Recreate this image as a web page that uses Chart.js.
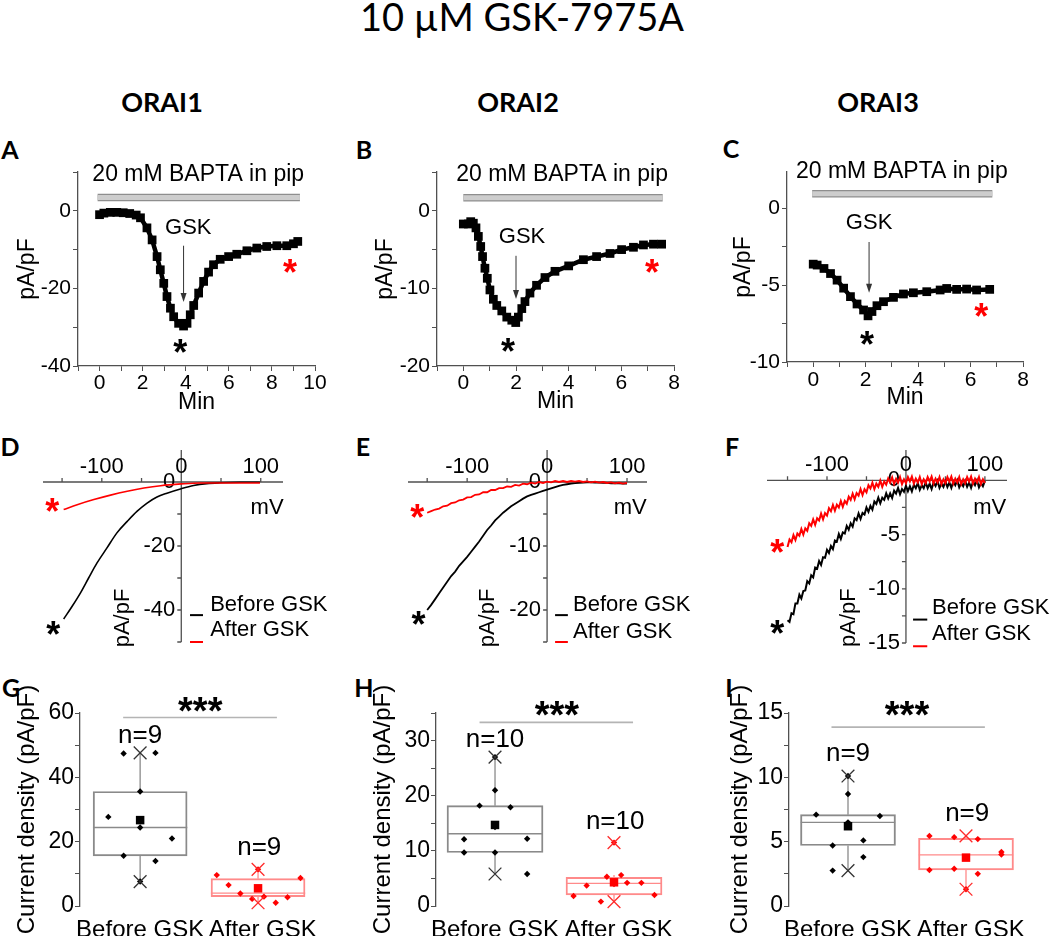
<!DOCTYPE html>
<html>
<head>
<meta charset="utf-8">
<title>10 µM GSK-7975A</title>
<script src="https://cdn.jsdelivr.net/npm/chart.js@4.4.1/dist/chart.umd.min.js"></script>
<style>
  body { margin: 0; background: #fff; }
  #fig { position: relative; width: 1050px; height: 942px; overflow: hidden; font-family: Lato, 'Open Sans', sans-serif; }
  #fig canvas { position: absolute; left: 0; top: 0; }
  .lbl { position: absolute; transform: translate(-50%, -50%); line-height: 1; white-space: nowrap; color: #000; }
  .ttl { font-size: 38px; }
  .hdr { font-size: 27px; font-weight: bold; }
  .pl { font-size: 25px; font-weight: bold; }
</style>
</head>
<body>
<div id="fig">
  <div class="lbl ttl" style="left:522px;top:16px">10 µM GSK-7975A</div>
  <div class="lbl hdr" style="left:162px;top:101px">ORAI1</div>
  <div class="lbl hdr" style="left:518px;top:101px">ORAI2</div>
  <div class="lbl hdr" style="left:878px;top:101px">ORAI3</div>
  <div class="lbl pl" style="left:10px;top:149px">A</div>
  <div class="lbl pl" style="left:364px;top:149px">B</div>
  <div class="lbl pl" style="left:731px;top:148px">C</div>
  <div class="lbl pl" style="left:10px;top:446px">D</div>
  <div class="lbl pl" style="left:363px;top:446px">E</div>
  <div class="lbl pl" style="left:732px;top:446px">F</div>
  <div class="lbl pl" style="left:11px;top:687px">G</div>
  <div class="lbl pl" style="left:364px;top:687px">H</div>
  <div class="lbl pl" style="left:729px;top:687px">I</div>
  <canvas id="cA" width="1050" height="942"></canvas>
  <canvas id="cB" width="1050" height="942"></canvas>
  <canvas id="cC" width="1050" height="942"></canvas>
  <canvas id="cD" width="1050" height="942"></canvas>
  <canvas id="cE" width="1050" height="942"></canvas>
  <canvas id="cF" width="1050" height="942"></canvas>
  <canvas id="cG" width="1050" height="942"></canvas>
  <canvas id="cH" width="1050" height="942"></canvas>
  <canvas id="cI" width="1050" height="942"></canvas>
</div>
<script>
// ---------- A-C: current density vs time (min, pA/pF) ----------
var timeA = [0, 0.2, 0.5, 0.8, 1.1, 1.4, 1.7, 1.9, 2.2, 2.44, 2.67, 2.82, 2.98, 3.13, 3.29, 3.44, 3.67, 3.9, 4.06, 4.21, 4.37, 4.6, 4.83, 5.06, 5.29, 5.6, 5.99, 6.37, 6.84, 7.3, 7.76, 8.23, 8.69, 9.0, 9.2];
var currA = [-1.0, -0.6, -0.4, -0.4, -0.5, -0.7, -1.1, -1.8, -4.4, -7.5, -11.8, -15.2, -18.7, -22.1, -25.1, -27.3, -29.0, -29.7, -29.0, -26.8, -24.4, -21.2, -18.2, -15.8, -13.9, -12.5, -11.8, -11.2, -10.3, -9.6, -9.2, -9.0, -9.0, -8.5, -7.9];
var timeB = [0, 0.19, 0.28, 0.38, 0.48, 0.57, 0.66, 0.73, 0.82, 0.91, 1.01, 1.14, 1.27, 1.46, 1.65, 1.84, 1.99, 2.09, 2.22, 2.34, 2.53, 2.78, 3.1, 3.48, 4.0, 4.56, 5.06, 5.57, 6.01, 6.46, 6.84, 7.22, 7.53];
var currB = [-1.7, -1.7, -1.4, -1.6, -2.2, -3.3, -4.6, -5.9, -7.4, -8.7, -10.2, -11.4, -12.2, -12.9, -13.7, -14.1, -14.4, -13.7, -12.6, -11.7, -10.6, -9.6, -8.6, -7.8, -7.1, -6.3, -5.9, -5.5, -5.0, -4.7, -4.4, -4.3, -4.3];
var timeC = [0, 0.15, 0.41, 0.66, 0.91, 1.16, 1.42, 1.67, 1.92, 2.09, 2.24, 2.43, 2.68, 3.06, 3.44, 3.82, 4.33, 4.84, 5.09, 5.47, 5.85, 6.23, 6.73];
var currC = [-3.64, -3.7, -3.92, -4.25, -4.68, -5.2, -5.75, -6.23, -6.62, -7.0, -6.72, -6.34, -6.08, -5.8, -5.58, -5.5, -5.43, -5.32, -5.22, -5.28, -5.26, -5.32, -5.28];
// BAPTA period [start, end] and GSK application time (min)
var baptaA = [-0.09, 9.3], baptaB = [0, 7.57], baptaC = [-0.04, 6.83];
var gskA = 3.9, gskB = 2.0, gskC = 2.13;

// ---------- D-F: I-V curves (mV, pA/pF) ----------
var mvBeforeD = [-148, -137.5, -127, -116.6, -106, -93.5, -81, -68, -55.8, -43, -30.6, -18, 0, 15.5, 32, 49, 74, 99];
var beforeD = [-42.8, -38.9, -34.7, -30, -25.3, -20.6, -15.9, -12.3, -9.2, -6.6, -4.7, -3.5, -2.1, -1.1, -0.5, -0.25, -0.1, -0.1];
var mvAfterD = [-148, -131, -110, -89, -68, -47, -26, 0, 24, 66, 99];
var afterD = [-8.6, -7.1, -5.5, -4.1, -2.9, -1.9, -1.15, -0.6, -0.3, -0.3, -0.3];
var mV = [-150, -145, -140, -135, -130, -125, -120, -115, -110, -105, -100, -95, -90, -85, -80, -75, -70, -65, -60, -55, -50, -45, -40, -35, -30, -25, -20, -15, -10, -5, 0, 5, 10, 15, 20, 25, 30, 35, 40, 45, 50, 55, 60, 65, 70, 75, 80, 85, 90, 95, 100];
var beforeE = [-20.0, -19.2, -18.3, -17.4, -16.5, -15.6, -14.7, -14.0, -13.1, -12.4, -11.7, -10.9, -10.1, -9.3, -8.4, -7.5, -6.8, -6.0, -5.4, -4.8, -4.3, -3.8, -3.4, -3.0, -2.6, -2.25, -2.0, -1.8, -1.6, -1.4, -1.2, -1.0, -0.8, -0.6, -0.45, -0.35, -0.25, -0.18, -0.12, -0.08, -0.05, -0.05, -0.1, -0.1, -0.15, -0.15, -0.2, -0.2, -0.2, -0.25, -0.25];
var afterE = [-4.8, -4.55, -4.3, -4.15, -3.8, -3.7, -3.3, -3.2, -2.85, -2.75, -2.4, -2.35, -2.0, -1.95, -1.6, -1.6, -1.25, -1.25, -0.95, -0.95, -0.7, -0.75, -0.45, -0.55, -0.25, -0.35, -0.1, -0.25, 0.0, -0.15, 0.05, -0.05, 0.15, 0.0, 0.15, 0.0, 0.15, 0.05, 0.15, 0.0, 0.1, -0.05, 0.05, -0.1, 0.0, -0.15, -0.05, -0.2, -0.1, -0.25, -0.15];
// ORAI3 I-V is noisy: sampled every 2.5 mV
var mvF = [-150, -147.5, -145, -142.5, -140, -137.5, -135, -132.5, -130, -127.5, -125, -122.5, -120, -117.5, -115, -112.5, -110, -107.5, -105, -102.5,
    -100, -97.5, -95, -92.5, -90, -87.5, -85, -82.5, -80, -77.5, -75, -72.5, -70, -67.5, -65, -62.5, -60, -57.5, -55, -52.5,
    -50, -47.5, -45, -42.5, -40, -37.5, -35, -32.5, -30, -27.5, -25, -22.5, -20, -17.5, -15, -12.5, -10, -7.5, -5, -2.5,
    0, 2.5, 5, 7.5, 10, 12.5, 15, 17.5, 20, 22.5, 25, 27.5, 30, 32.5, 35, 37.5, 40, 42.5, 45, 47.5,
    50, 52.5, 55, 57.5, 60, 62.5, 65, 67.5, 70, 72.5, 75, 77.5, 80, 82.5, 85, 87.5, 90, 92.5, 95, 97.5, 100];
var beforeF = [-12.9, -13.05, -12.25, -12.35, -11.35, -11.35, -10.55, -10.9, -10.2, -10.15, -9.3, -9.5, -8.75, -8.95, -8.05, -8.15, -7.45, -7.8, -7.1, -7.15,
    -6.4, -6.7, -6.05, -6.35, -5.55, -5.65, -4.95, -5.4, -4.8, -4.9, -4.2, -4.55, -3.95, -4.27, -3.5, -3.67, -3.05, -3.55, -3.0, -3.15,
    -2.5, -2.9, -2.35, -2.7, -1.95, -2.17, -1.6, -2.12, -1.6, -1.8, -1.2, -1.67, -1.2, -1.62, -0.95, -1.22, -0.7, -1.27, -0.8, -1.05,
    -0.5, -1.0, -0.55, -1.02, -0.4, -0.72, -0.25, -0.87, -0.45, -0.72, -0.2, -0.72, -0.3, -0.8, -0.2, -0.52, -0.05, -0.7, -0.3, -0.6,
    -0.1, -0.62, -0.2, -0.7, -0.1, -0.45, 0.0, -0.65, -0.25, -0.55, -0.05, -0.6, -0.2, -0.7, -0.1, -0.45, 0.0, -0.65, -0.25, -0.55, -0.05];
var afterF = [-6.15, -5.45, -5.7, -5.05, -5.5, -4.9, -5.1, -4.48, -5.0, -4.42, -4.65, -3.95, -4.2, -3.6, -4.1, -3.5, -3.7, -3.07, -3.6, -3.02,
    -3.25, -2.57, -2.85, -2.27, -2.8, -2.25, -2.5, -1.9, -2.45, -1.9, -2.15, -1.5, -1.8, -1.22, -1.75, -1.17, -1.4, -0.8, -1.35, -0.82,
    -1.1, -0.45, -0.75, -0.22, -0.8, -0.3, -0.6, -0.02, -0.6, -0.1, -0.4, 0.18, -0.2, 0.28, -0.35, 0.13, -0.2, 0.3, -0.35, 0.1,
    -0.25, 0.3, -0.1, 0.35, -0.3, 0.15, -0.2, 0.3, -0.35, 0.1, -0.25, 0.3, -0.1, 0.35, -0.3, 0.15, -0.2, 0.3, -0.35, 0.1,
    -0.25, 0.3, -0.1, 0.35, -0.3, 0.15, -0.2, 0.3, -0.35, 0.1, -0.25, 0.3, -0.1, 0.35, -0.3, 0.15, -0.2, 0.3, -0.35, 0.1, -0.25];
// tick labels of the I-V axes
var ivXLabels = [-100, 0, 100];
var ivXTicks = [-150, -100, -50, 0, 50, 100];
var yLabD = [0, -20, -40], yTickD = [0, -10, -20, -30, -40, -50];
var yLabE = [0, -10, -20], yTickE = [0, -5, -10, -15, -20, -25];
var yLabF = [0, -5, -10, -15], yTickF = [0, -2.5, -5, -7.5, -10, -12.5, -15];

// ---------- G-I: current density box plots (pA/pF) ----------
var groups = ['Before GSK', 'After GSK'];
var beforeG = [47.4, 47.6, 35.6, 27.7, 24.4, 21.0, 15.6, 14.0, 7.6];
var afterG = [9.6, 6.5, 3.9, 2.2, 2.9, 1.0, 2.7, 8.7, 11.4];
var jitBeforeG = [-0.14, 0.13, 0, -0.27, 0, 0.27, -0.14, 0.13, 0];
var jitAfterG = [-0.35, -0.25, -0.15, -0.05, 0.05, 0.15, 0.25, 0.36, 0];
var q1G = [15.6, 2.9], medG = [24.4, 4.0], q3G = [35.6, 8.5], meanG = [26.7, 5.5];
var whiskLoG = [7.6, 1.0], whiskHiG = [47.6, 11.4];

var beforeH = [27.0, 21.0, 18.2, 17.9, 12.1, 12.2, 14.3, 9.7, 9.7, 5.8];
var afterH = [11.5, 1.8, 3.7, 0.8, 5.3, 5.6, 4.2, 4.2, 2.0, 4.0];
var jitBeforeH = [0, 0, -0.13, 0.13, -0.26, 0.27, 0, -0.26, 0, 0.27];
var jitAfterH = [0, -0.34, -0.23, -0.11, -0.06, 0.06, 0.11, 0.23, 0.34, 0];
var q1H = [9.7, 2.0], medH = [13.1, 4.1], q3H = [18.2, 5.2], meanH = [14.7, 4.3];
var whiskLoH = [5.8, 0.8], whiskHiH = [27.0, 5.6];

var beforeI = [10.1, 8.7, 7.1, 7.0, 6.5, 4.7, 5.1, 3.8, 2.75];
var afterI = [5.45, 5.35, 5.2, 4.2, 4.0, 2.8, 2.9, 2.5, 1.3];
var jitBeforeI = [0, 0, -0.27, 0.27, 0, -0.13, 0.13, 0.13, -0.13];
var jitAfterI = [-0.31, -0.10, 0.10, 0.30, 0.30, -0.31, -0.10, 0.10, 0];
var q1I = [4.7, 2.8], medI = [6.5, 3.97], q3I = [7.1, 5.25], meanI = [6.2, 3.76];
var whiskLoI = [2.75, 1.3], whiskHiI = [10.1, 5.45];

Chart.defaults.font.family = "'Liberation Sans', Arial, sans-serif";
Chart.defaults.color = '#000';
Chart.defaults.animation = false;

var AXIS = '#505050';
var FONT = "'Liberation Sans', Arial, sans-serif";

function pts(xs, ys) {
    return xs.map(function (x, i) { return { x: x, y: ys[i] }; });
}

// text, arrows and short legend strokes placed in data coordinates
function notes(items) {
    return {
        id: 'notes',
        afterDatasetsDraw: function (chart) {
            var ctx = chart.ctx, sx = chart.scales.x, sy = chart.scales.y;
            items.forEach(function (it) {
                var px = sx.getPixelForValue(it.x), py = sy.getPixelForValue(it.y);
                ctx.save();
                if (it.arrowTo !== undefined) {
                    var py2 = sy.getPixelForValue(it.arrowTo);
                    ctx.strokeStyle = '#333'; ctx.lineWidth = 1;
                    ctx.beginPath(); ctx.moveTo(px, py); ctx.lineTo(px, py2 - 6); ctx.stroke();
                    ctx.fillStyle = '#333';
                    ctx.beginPath(); ctx.moveTo(px - 3, py2 - 9); ctx.lineTo(px + 3, py2 - 9); ctx.lineTo(px, py2); ctx.closePath(); ctx.fill();
                } else if (it.x2 !== undefined) {
                    ctx.strokeStyle = it.color; ctx.lineWidth = 2;
                    ctx.beginPath(); ctx.moveTo(px, py); ctx.lineTo(sx.getPixelForValue(it.x2), py); ctx.stroke();
                } else {
                    ctx.font = it.font; ctx.fillStyle = it.color || '#000';
                    ctx.textAlign = it.align || 'center'; ctx.textBaseline = 'middle';
                    ctx.translate(px, py);
                    if (it.rot) ctx.rotate(it.rot);
                    ctx.fillText(it.text, 0, it.dy || 0);
                }
                ctx.restore();
            });
        }
    };
}

function star(x, y, color) {
    return { x: x, y: y, text: '*', font: 'bold 36px ' + FONT, color: color, dy: 7 };
}

// ----- time-course panels -----
function tracePanel(id, t, c, bapta, gsk, rng, lay, txt) {
    var yStep = rng.yStep, yLab = rng.yLab;
    new Chart(document.getElementById(id), {
        type: 'scatter',
        data: {
            datasets: [
                { data: pts(t, c), showLine: true, borderColor: '#000', borderWidth: 4.5, pointStyle: 'rect', pointRadius: 3, backgroundColor: '#000', clip: false, order: 1 },
                { data: [{ x: bapta[0], y: txt.barY }, { x: bapta[1], y: txt.barY }], showLine: true, borderColor: '#cdcdcd', borderWidth: 5, pointRadius: 0, clip: false, order: 2 },
                { data: [{ x: bapta[0], y: txt.barY }, { x: bapta[1], y: txt.barY }], showLine: true, borderColor: '#8e8e8e', borderWidth: 7.5, pointRadius: 0, clip: false, order: 3 }
            ]
        },
        options: {
            responsive: false,
            events: [],
            layout: { padding: { left: lay.L - lay.W, right: 1050 - lay.R, top: lay.T, bottom: 942 - lay.B - lay.H } },
            plugins: { legend: { display: false }, tooltip: { enabled: false } },
            scales: {
                x: {
                    type: 'linear', min: rng.xMin, max: rng.xMax,
                    afterFit: function (s) { s.height = lay.H; },
                    border: { display: true, color: AXIS, width: 1.3 },
                    grid: { drawOnChartArea: false, tickLength: 5, color: AXIS },
                    ticks: { stepSize: 1, autoSkip: false, includeBounds: false, maxRotation: 0, padding: lay.xPad, font: { size: 21 },
                        callback: function (v) { return (v >= 0 && v % 2 === 0) ? v : ''; } },
                    title: { display: true, text: 'Min', font: { size: 23 }, padding: 0 }
                },
                y: {
                    type: 'linear', min: rng.yMin, max: rng.yMax,
                    afterFit: function (s) { s.width = lay.W; },
                    border: { display: true, color: AXIS, width: 1.3 },
                    grid: { drawOnChartArea: false, tickLength: 5, color: AXIS },
                    ticks: { stepSize: yStep, autoSkip: false, includeBounds: false, padding: 2, font: { size: 21 },
                        callback: function (v) { return (v <= 0 && Math.abs(v % yLab) < 1e-9) ? v : ''; } },
                    title: { display: true, text: 'pA/pF', font: { size: 23 }, padding: 0 }
                }
            }
        },
        plugins: [notes([
            { x: txt.bx, y: txt.by, text: '20 mM BAPTA in pip', font: '23px ' + FONT },
            { x: txt.gx, y: txt.gy, text: 'GSK', font: '22px ' + FONT },
            { x: gsk, y: txt.a1, arrowTo: txt.a2 },
            star(txt.s1[0], txt.s1[1], '#000'),
            star(txt.s2[0], txt.s2[1], '#ff0000')
        ])]
    });
}

tracePanel('cA', timeA, currA, baptaA, gskA,
    { xMin: -1, xMax: 10, yMin: -40, yMax: 10, yStep: 10, yLab: 20 },
    { L: 78, R: 315, T: 172, B: 366, W: 63.8, H: 50.8, xPad: 0 },
    { barY: 3.4, bx: 4.58, by: 9.3, gx: 4.12, gy: -4.4, a1: -9, a2: -23.5, s1: [3.75, -35.4], s2: [8.84, -14.7] });
tracePanel('cB', timeB, currB, baptaB, gskB,
    { xMin: -1, xMax: 8, yMin: -20, yMax: 5, yStep: 5, yLab: 10 },
    { L: 437, R: 674, T: 172, B: 366, W: 64.8, H: 49.5, xPad: 0 },
    { barY: 1.68, bx: 3.75, by: 4.65, gx: 2.23, gy: -3.35, a1: -5.8, a2: -11.35, s1: [1.7, -17.5], s2: [7.16, -7.35] });
tracePanel('cC', timeC, currC, baptaC, gskC,
    { xMin: -1, xMax: 8, yMin: -10, yMax: 2.35, yStep: 2.5, yLab: 5 },
    { L: 787, R: 1023, T: 172, B: 362, W: 56.8, H: 49.8, xPad: 1 },
    { barY: 0.94, bx: 3.38, by: 2.34, gx: 2.13, gy: -0.97, a1: -2.2, a2: -5.5, s1: [2.05, -8.57], s2: [6.41, -6.75] });

// ----- I-V panels: axes cross at the origin -----
function ivAxes(xTicks, xLabels, yTicks, yLabels) {
    return {
        id: 'ivAxes',
        beforeDatasetsDraw: function (chart) {
            var ctx = chart.ctx, a = chart.chartArea, sx = chart.scales.x, sy = chart.scales.y;
            var x0 = sx.getPixelForValue(0), y0 = sy.getPixelForValue(0);
            ctx.save();
            ctx.strokeStyle = AXIS; ctx.lineWidth = 1.3;
            ctx.beginPath();
            ctx.moveTo(a.left, y0); ctx.lineTo(a.right, y0);
            ctx.moveTo(x0, a.top); ctx.lineTo(x0, a.bottom);
            xTicks.forEach(function (v) { var p = sx.getPixelForValue(v); ctx.moveTo(p, y0); ctx.lineTo(p, y0 - 4); });
            yTicks.forEach(function (v) { var p = sy.getPixelForValue(v); ctx.moveTo(x0, p); ctx.lineTo(x0 - 4, p); });
            ctx.stroke();
            ctx.fillStyle = '#000'; ctx.font = '22px ' + FONT;
            ctx.textAlign = 'center'; ctx.textBaseline = 'middle';
            xLabels.forEach(function (v) { ctx.fillText(String(v), sx.getPixelForValue(v), y0 - 15); });
            ctx.textAlign = 'right';
            yLabels.forEach(function (v) { ctx.fillText(String(v), x0 - 6, sy.getPixelForValue(v)); });
            ctx.restore();
        }
    };
}

function ivPanel(id, before, after, rng, lay, yTicks, yLabels, txt) {
    var f = '22px ' + FONT;
    new Chart(document.getElementById(id), {
        type: 'scatter',
        data: {
            datasets: [
                { data: after, showLine: true, borderColor: '#ff0000', borderWidth: lay.lw, pointRadius: 0, cubicInterpolationMode: lay.mode, clip: false, order: 1 },
                { data: before, showLine: true, borderColor: '#000', borderWidth: lay.lw, pointRadius: 0, cubicInterpolationMode: lay.mode, clip: false, order: 2 }
            ]
        },
        options: {
            responsive: false,
            events: [],
            layout: { padding: { left: lay.L, right: 1050 - lay.R, top: lay.T, bottom: 942 - lay.B } },
            plugins: { legend: { display: false }, tooltip: { enabled: false } },
            scales: {
                x: { type: 'linear', display: false, min: rng.xMin, max: rng.xMax },
                y: { type: 'linear', display: false, min: rng.yMin, max: rng.yMax }
            }
        },
        plugins: [ivAxes(ivXTicks, ivXLabels, yTicks, yLabels), notes([
            { x: txt.mv[0], y: txt.mv[1], text: 'mV', font: f },
            { x: txt.pa[0], y: txt.pa[1], text: 'pA/pF', font: f, rot: -Math.PI / 2 },
            { x: txt.lx[0], x2: txt.lx[1], y: txt.ly[0], color: '#000' },
            { x: txt.lx[0], x2: txt.lx[1], y: txt.ly[1], color: '#ff0000' },
            { x: txt.tx, y: txt.ty[0], text: 'Before GSK', font: f, align: 'left' },
            { x: txt.tx, y: txt.ty[1], text: 'After GSK', font: f, align: 'left' },
            star(txt.s1[0], txt.s1[1], '#000'),
            star(txt.s2[0], txt.s2[1], '#ff0000')
        ])]
    });
}

ivPanel('cD', pts(mvBeforeD, beforeD), pts(mvAfterD, afterD),
    { xMin: -174, xMax: 128, yMin: -50, yMax: 10 },
    { L: 43, R: 283, T: 450, B: 642, lw: 1.6, mode: 'monotone' }, yTickD, yLabD,
    { mv: [108, -8.1], pa: [-73.3, -42.5], lx: [11, 27.3], ly: [-41.6, -50], tx: 36.3, ty: [-38.4, -46.3], s1: [-161, -46.3], s2: [-162.5, -7.8] });
ivPanel('cE', pts(mV, beforeE), pts(mV, afterE),
    { xMin: -174, xMax: 125, yMin: -25, yMax: 5 },
    { L: 408, R: 647, T: 450, B: 642, lw: 1.8, mode: 'default' }, yTickE, yLabE,
    { mv: [104, -4.06], pa: [-73.8, -21.25], lx: [10, 26], ly: [-20.8, -25], tx: 32.5, ty: [-19.2, -23.4], s1: [-161, -21.6], s2: [-162.5, -4.84] });
ivPanel('cF', pts(mvF, beforeF), pts(mvF, afterF),
    { xMin: -176, xMax: 128, yMin: -15, yMax: 2.8 },
    { L: 767, R: 1007, T: 450, B: 643, lw: 2, mode: 'default' }, yTickF, yLabF,
    { mv: [106, -2.54], pa: [-72, -12.66], lx: [9, 27], ly: [-12.84, -15.3], tx: 33, ty: [-11.74, -14.13], s1: [-163, -13.76], s2: [-163, -6.2] });

// ----- box plots -----
var boxCol = ['#8a8a8a', '#ff8a8a'];
var dotCol = ['#000', '#ff0000'];
var crossCol = ['#333', '#ff2a2a'];

function seg(data, color, order, width) {
    return { data: data, showLine: true, borderColor: color, borderWidth: width || 1.3, pointRadius: 0, clip: false, order: order };
}

function boxPanel(id, vals, jit, q1, med, q3, mean, wLo, wHi, rng, lay, txt) {
    var sets = [{
        type: 'bar',
        data: [{ x: 1, y: [q1[0], q3[0]] }, { x: 2, y: [q1[1], q3[1]] }],
        backgroundColor: 'rgba(0,0,0,0)', borderColor: boxCol, borderWidth: 1.3,
        borderSkipped: false, barThickness: lay.bw, clip: false, order: 10
    }];
    for (var g = 0; g < 2; g++) {
        var c = g + 1;
        sets.push(seg([{ x: c - 0.4, y: med[g] }, { x: c + 0.4, y: med[g] }], boxCol[g], 9));
        sets.push(seg([{ x: c, y: q3[g] }, { x: c, y: wHi[g] }], boxCol[g], 9));
        sets.push(seg([{ x: c, y: q1[g] }, { x: c, y: wLo[g] }], boxCol[g], 9));
        sets.push({ data: vals[g].map(function (v, i) { return { x: c + jit[g][i], y: v }; }),
            pointStyle: 'rectRot', pointRadius: 3.2, backgroundColor: dotCol[g], borderColor: dotCol[g], borderWidth: 0, clip: false, order: 6 });
        sets.push({ data: [{ x: c, y: Math.min.apply(null, vals[g]) }, { x: c, y: Math.max.apply(null, vals[g]) }],
            pointStyle: 'crossRot', pointRadius: 9, borderColor: crossCol[g], borderWidth: 1.3, clip: false, order: 5 });
        sets.push({ data: [{ x: c, y: mean[g] }], pointStyle: 'rect', pointRadius: 6, backgroundColor: dotCol[g], borderColor: dotCol[g], borderWidth: 0, clip: false, order: 4 });
    }
    sets.push(seg([{ x: txt.sig[0], y: txt.sig[2] }, { x: txt.sig[1], y: txt.sig[2] }], '#b4b4b4', 8, 1.6));
    new Chart(document.getElementById(id), {
        type: 'scatter',
        data: { datasets: sets },
        options: {
            responsive: false,
            events: [],
            layout: { padding: { left: lay.L - lay.W, right: 1050 - lay.R, top: lay.T, bottom: 942 - lay.B - 30 } },
            plugins: { legend: { display: false }, tooltip: { enabled: false } },
            scales: {
                x: {
                    type: 'linear', min: rng.xMin, max: 2.5, offset: false,
                    afterFit: function (s) { s.height = 30; },
                    // category labels; the second one sits slightly right of its box, as in the figure
                    afterBuildTicks: function (s) { s.ticks = [{ value: 1 }, { value: 2.04 }]; },
                    border: { display: false },
                    grid: { display: false, drawTicks: false, offset: false },
                    ticks: { autoSkip: false, maxRotation: 0, padding: 9.6, font: { size: 24 },
                        callback: function (v) { return groups[Math.round(v) - 1]; } }
                },
                y: {
                    type: 'linear', min: 0, max: rng.yMax,
                    afterFit: function (s) { s.width = lay.W; },
                    border: { display: true, color: AXIS, width: 1.3 },
                    grid: { drawOnChartArea: false, tickLength: 5, color: AXIS },
                    ticks: { stepSize: rng.yStep, autoSkip: false, includeBounds: false, padding: 1, font: { size: 23 },
                        callback: function (v) { return Math.abs(v % rng.yLab) < 1e-9 ? v : ''; } },
                    title: { display: true, text: 'Current density (pA/pF)', font: { size: 24 }, padding: 0 }
                }
            }
        },
        plugins: [notes([
            { x: txt.st[0], y: txt.st[1], text: '***', font: 'bold 38px ' + FONT, dy: 8 },
            { x: 1, y: txt.n1, text: 'n=' + vals[0].length, font: '26px ' + FONT },
            { x: 2.01, y: txt.n2, text: 'n=' + vals[1].length, font: '26px ' + FONT }
        ])]
    });
}

boxPanel('cG', [beforeG, afterG], [jitBeforeG, jitAfterG], q1G, medG, q3G, meanG, whiskLoG, whiskHiG,
    { xMin: 0.49, yMax: 60, yStep: 10, yLab: 20 },
    { L: 80, R: 317, T: 713, B: 906, W: 67.4, bw: 94 },
    { st: [1.51, 62.3], sig: [0.856, 2.16, 58.6], n1: 53, n2: 18 });
boxPanel('cH', [beforeH, afterH], [jitBeforeH, jitAfterH], q1H, medH, q3H, meanH, whiskLoH, whiskHiH,
    { xMin: 0.504, yMax: 35, yStep: 5, yLab: 10 },
    { L: 436, R: 673.5, T: 713, B: 906, W: 67.4, bw: 96 },
    { st: [1.52, 35.6], sig: [0.87, 2.16, 33.3], n1: 30.2, n2: 15.3 });
boxPanel('cI', [beforeI, afterI], [jitBeforeI, jitAfterI], q1I, medI, q3I, meanI, whiskLoI, whiskHiI,
    { xMin: 0.5, yMax: 15, yStep: 2.5, yLab: 5 },
    { L: 789, R: 1025, T: 713, B: 906, W: 63.4, bw: 95 },
    { st: [1.5, 15.3], sig: [0.86, 2.16, 13.9], n1: 11.8, n2: 7.2 });
</script>
</body>
</html>
